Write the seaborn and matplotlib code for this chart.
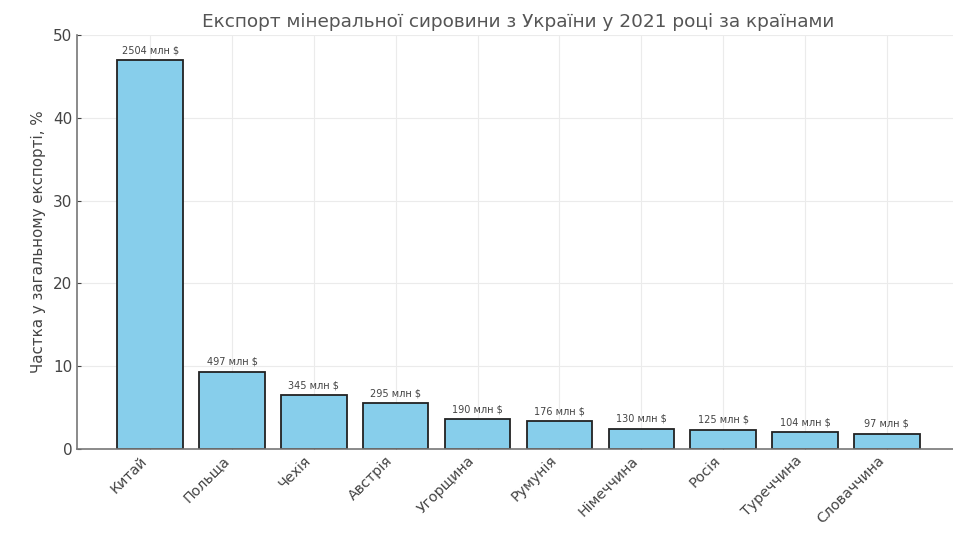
import matplotlib
matplotlib.use("Agg")
import matplotlib.pyplot as plt
import seaborn as sns
import pandas as pd

# Export of mineral raw materials from Ukraine, 2021
countries = ["Китай", "Польща", "Чехія", "Австрія", "Угорщина",
             "Румунія", "Німеччина", "Росія", "Туреччина", "Словаччина"]
value_mln = [2504, 497, 345, 295, 190, 176, 130, 125, 104, 97]
share_pct = [47.0, 9.3, 6.5, 5.5, 3.6, 3.3, 2.4, 2.3, 2.0, 1.8]

df = pd.DataFrame({"country": countries, "share": share_pct, "mln": value_mln})

sns.set_style("whitegrid", {
    "grid.color": "#ebebeb",
    "axes.edgecolor": "#555555",
    "text.color": "#444444",
    "axes.labelcolor": "#444444",
    "xtick.color": "#444444",
    "ytick.color": "#444444",
})
plt.rcParams["font.family"] = ["DejaVu Sans"]

fig = plt.figure(figsize=(9.54, 5.33), dpi=100)
ax = fig.add_axes([0.081, 0.158, 0.925, 0.776])

sns.barplot(data=df, x="country", y="share", color="#87CEEB",
            edgecolor="#222222", linewidth=1.3, width=0.8,
            saturation=1, ax=ax)

for i, (s, v) in enumerate(zip(share_pct, value_mln)):
    ax.text(i, s + 0.6, f"{v} млн $", ha="center", va="bottom",
            fontsize=7, color="#444444")

ax.set_xlim(-0.89, 9.89)
ax.set_ylim(0, 50)
ax.set_yticks([0, 10, 20, 30, 40, 50])
ax.set_axisbelow(True)
ax.xaxis.grid(True, color="#ebebeb")
ax.yaxis.grid(True, color="#ebebeb")
ax.set_title("Експорт мінеральної сировини з України у 2021 році за країнами",
             fontsize=13.3, color="#555555", pad=6)
ax.set_xlabel("")
ax.set_ylabel("Частка у загальному експорті, %", fontsize=10.8, labelpad=5)
ax.tick_params(axis="y", labelsize=11, left=True, direction="in", length=3)
ax.tick_params(axis="x", labelsize=10.3, bottom=True, direction="in", length=3)
plt.setp(ax.get_xticklabels(), rotation=45, ha="right")

for side in ("top", "right"):
    ax.spines[side].set_visible(False)
for side in ("left", "bottom"):
    ax.spines[side].set_linewidth(1.2)
    ax.spines[side].set_color("#777777")

fig.savefig("out.png", dpi=100)
